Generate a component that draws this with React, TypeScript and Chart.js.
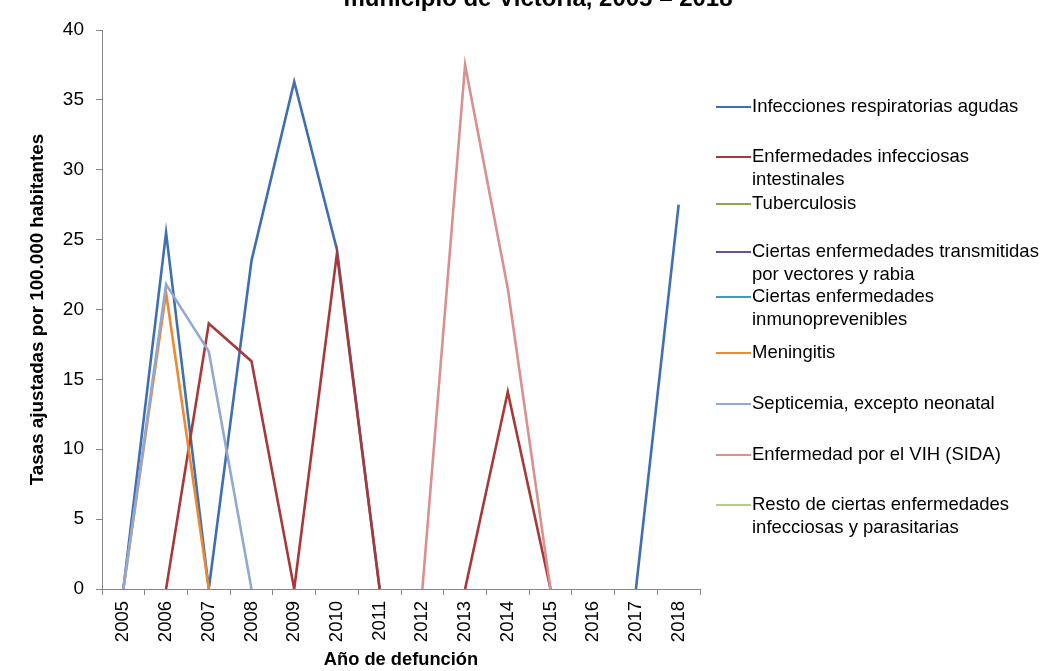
import React, { useEffect, useRef } from "react";
import { Chart, registerables } from "chart.js";

Chart.register(...registerables);

const years = ["2005", "2006", "2007", "2008", "2009", "2010", "2011", "2012", "2013", "2014", "2015", "2016", "2017", "2018"];

const seriesNames: string[][] = [
  ["Infecciones respiratorias agudas"],
  ["Enfermedades infecciosas", "intestinales"],
  ["Tuberculosis"],
  ["Ciertas enfermedades transmitidas", "por vectores y rabia"],
  ["Ciertas enfermedades", "inmunoprevenibles"],
  ["Meningitis"],
  ["Septicemia, excepto neonatal"],
  ["Enfermedad por el VIH (SIDA)"],
  ["Resto de ciertas enfermedades", "infecciosas y parasitarias"],
];

const seriesColors = ["#3F6FB0", "#A8393A", "#8AAA4A", "#6A5290", "#3A9CB6", "#EC8A33", "#8FA9D3", "#D99190", "#B5CC88"];

const respiratorias = [0, 25.5, 0, 23.5, 36.3, 24.3, 0, null, null, null, null, null, 0, 27.5];
const intestinales = [null, 0, 19.0, 16.3, 0, 24.0, 0, null, 0, 14.1, 0, null, null, null];
const tuberculosis = [null, null, null, null, null, null, null, null, null, null, null, null, null, null];
const vectores = [null, null, null, null, null, null, null, null, null, null, null, null, null, null];
const inmunoprevenibles = [null, null, null, null, null, null, null, null, null, null, null, null, null, null];
const meningitis = [0, 21.2, 0, null, null, null, null, null, null, null, null, null, null, null];
const septicemia = [0, 21.8, 17.0, 0, null, null, null, null, null, null, null, null, null, null];
const vih = [null, null, null, null, null, null, null, 0, 37.5, 21.5, 0, null, null, null];
const resto = [null, null, null, null, null, null, null, null, null, null, null, null, null, null];

const seriesValues = [respiratorias, intestinales, tuberculosis, vectores, inmunoprevenibles, meningitis, septicemia, vih, resto];

const yTicks = [0, 5, 10, 15, 20, 25, 30, 35, 40];

const titleText = "municipio de Victoria, 2005 – 2018";
const yTitle = "Tasas ajustadas por 100.000 habitantes";
const xTitle = "Año de defunción";

const FONT = "'Liberation Sans', Arial, sans-serif";

const legendPlugin = {
  id: "customLegend",
  afterDraw(chart: any) {
    const ctx = chart.ctx;
    const firstLineY = [107, 157, 204, 252, 297, 353, 404, 455, 505];
    const lineGap = 23;
    ctx.save();
    ctx.font = `18.5px ${FONT}`;
    ctx.textBaseline = "middle";
    ctx.textAlign = "left";
    chart.data.datasets.forEach((ds: any, i: number) => {
      const y = firstLineY[i];
      ctx.strokeStyle = ds.borderColor;
      ctx.lineWidth = 2.2;
      ctx.beginPath();
      ctx.moveTo(716, y);
      ctx.lineTo(751, y);
      ctx.stroke();
      ctx.fillStyle = "#000";
      seriesNames[i].forEach((t, k) => ctx.fillText(t, 752, y + k * lineGap));
    });
    ctx.font = `bold 24px ${FONT}`;
    ctx.textAlign = "center";
    ctx.textBaseline = "alphabetic";
    ctx.fillText(titleText, 538, 6);
    ctx.restore();
  },
};

export default function App() {
  const ref = useRef<HTMLCanvasElement>(null);
  useEffect(() => {
    if (!ref.current) return;
    const chart = new Chart(ref.current, {
      type: "line",
      data: {
        labels: years,
        datasets: seriesValues.map((vals, i) => ({
          label: seriesNames[i].join(" "),
          data: vals,
          borderColor: seriesColors[i],
          backgroundColor: seriesColors[i],
          borderWidth: 2.6,
          pointRadius: 0,
          tension: 0,
          spanGaps: false,
          order: -i,
        })),
      },
      options: {
        animation: false,
        responsive: false,
        layout: { padding: { top: 30, right: 341, left: 0, bottom: 0 } },
        plugins: { legend: { display: false }, tooltip: { enabled: false }, title: { display: false } },
        scales: {
          x: {
            offset: true,
            grid: { offset: true, drawOnChartArea: false, drawTicks: true, tickLength: 6, color: "#868686" },
            border: { display: true, color: "#868686", width: 1 },
            ticks: { minRotation: 90, maxRotation: 90, padding: 6, color: "#000", font: { family: FONT, size: 18.5 } },
            title: { display: true, text: xTitle, color: "#000", font: { family: FONT, size: 18.3, weight: "bold" }, padding: { top: 0, bottom: 0 } },
            afterFit: (s: any) => { s.height = 82; },
          },
          y: {
            min: 0,
            max: 40,
            afterBuildTicks: (s: any) => { s.ticks = yTicks.map((v) => ({ value: v })); },
            grid: { drawOnChartArea: false, drawTicks: true, tickLength: 6, color: "#868686" },
            border: { display: true, color: "#868686", width: 1 },
            ticks: { padding: 12, color: "#000", font: { family: FONT, size: 19 } },
            title: { display: true, text: yTitle, color: "#000", font: { family: FONT, size: 18.8, weight: "bold" }, padding: { top: 27, bottom: 0 } },
            afterFit: (s: any) => { s.width = 102; },
          },
        },
      },
      plugins: [legendPlugin],
    });
    return () => chart.destroy();
  }, []);
  return (
    <div style={{ position: "absolute", left: 0, top: 0, width: 1041, height: 671, background: "#fff" }}>
      <canvas ref={ref} width={1041} height={671} />
    </div>
  );
}
